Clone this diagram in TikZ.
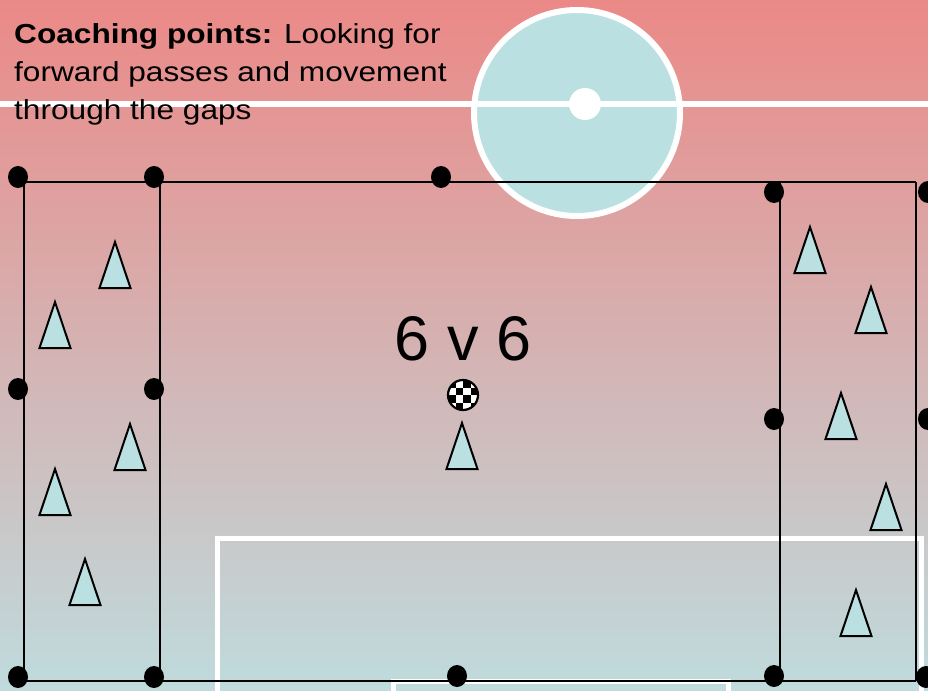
\documentclass[tikz,border=0pt]{standalone}
\usepackage{fontspec}
\setmainfont{Liberation Sans}
\newfontfamily\coachfont[FakeStretch=1.15]{Liberation Sans}
\usetikzlibrary{shapes.geometric}
\definecolor{bgtop}{RGB}{235,137,135}
\definecolor{bgmid}{RGB}{212,194,196}
\definecolor{bgbot}{RGB}{191,219,221}
\definecolor{pale}{RGB}{186,224,226}
\begin{document}
\begin{tikzpicture}[x=1pt,y=-1pt,
  dot/.style={ellipse,fill=black,inner sep=0pt,minimum width=20pt,minimum height=22pt},
  pitchline/.style={line width=2pt,black},
  whiteline/.style={line width=5pt,white},
  conepath/.style={fill=pale,draw=black,line width=2pt,line join=miter},
  cone/.pic={\path[conepath] (-15.5,0) -- (0,-46) -- (15.5,0) -- cycle;},
  coachtext/.style={anchor=base west,inner sep=0pt,font=\coachfont\fontsize{27.5}{33}\selectfont}
]
\useasboundingbox (0,0) rectangle (928,690);
% background
\shade[top color=bgtop,middle color=bgmid,bottom color=bgbot] (0,0) rectangle (928,690);

% centre circle and halfway line
\node[circle,fill=pale,draw=white,line width=6pt,minimum size=206pt,inner sep=0pt] (cc) at (577,113) {};
\coordinate (hl) at (0,104);
\coordinate (hr) at (928,104);
\draw[whiteline,line width=6pt] (hl) -- (hr);
\node[circle,fill=white,minimum size=32pt,inner sep=0pt] (spot) at (585,104) {};

% penalty box and goal area
\coordinate (pa1) at (217,700);
\coordinate (pa2) at (217,538);
\coordinate (pa3) at (921,538);
\coordinate (pa4) at (921,700);
\draw[whiteline] (pa1) -- (pa2) -- (pa3) -- (pa4);
\coordinate (ga1) at (393,700);
\coordinate (ga2) at (393,681);
\coordinate (ga3) at (728,681);
\coordinate (ga4) at (728,700);
\draw[whiteline] (ga1) -- (ga2) -- (ga3) -- (ga4);

% black pitch lines
\coordinate (tl) at (18,182);
\coordinate (tr) at (916,182);
\coordinate (bl) at (18,681);
\coordinate (br) at (916,681);
\coordinate (v1t) at (24,182);  \coordinate (v1b) at (24,681);
\coordinate (v2t) at (160,182); \coordinate (v2b) at (160,681);
\coordinate (v3t) at (780,182); \coordinate (v3b) at (780,681);
\coordinate (v4t) at (916,182); \coordinate (v4b) at (916,681);
\draw[pitchline] (tl) -- (tr);
\draw[pitchline] (bl) -- (br);
\draw[pitchline] (v1t) -- (v1b);
\draw[pitchline] (v2t) -- (v2b);
\draw[pitchline] (v3t) -- (v3b);
\draw[pitchline] (v4t) -- (v4b);

% dots
\node[dot] (d1) at (18,177) {};
\node[dot] (d2) at (154,177) {};
\node[dot] (d3) at (441,177) {};
\node[dot] (d4) at (774,192) {};
\node[dot] (d5) at (928,192) {};
\node[dot] (d6) at (18,389) {};
\node[dot] (d7) at (154,389) {};
\node[dot] (d8) at (774,419) {};
\node[dot] (d9) at (928,419) {};
\node[dot] (d10) at (18,677) {};
\node[dot] (d11) at (154,677) {};
\node[dot] (d12) at (457,676) {};
\node[dot] (d13) at (774,676) {};
\node[dot] (d14) at (926,677) {};

% cones
\pic at (115,288) {cone};
\pic at (55,348) {cone};
\pic at (130,470) {cone};
\pic at (55,515) {cone};
\pic at (85,605) {cone};
\pic at (462,469) {cone};
\pic at (810,273) {cone};
\pic at (871,333) {cone};
\pic at (841,439) {cone};
\pic at (886,530) {cone};
\pic at (856,636) {cone};

% ball
\node[circle,minimum size=30pt,inner sep=0pt,fill=white,draw=black,line width=2.2pt,
  path picture={
    \foreach \a/\b in {0/0,15/0,7.5/7.5,22.5/7.5,0/15,15/15,7.5/22.5,22.5/22.5}
      \fill[black] ([shift={(\a-15,\b-15)}]path picture bounding box.center) rectangle ++(7.5,7.5);
  }] (ball) at (463,395) {};

% texts
\node[anchor=base,inner sep=0pt,font=\fontsize{63}{70}\selectfont] (title) at (463,360) {6 v 6};
\node[coachtext] (c1) at (14,44) {\textbf{Coaching points:} Looking for};
\node[coachtext] (c2) at (14,82) {forward passes and movement};
\node[coachtext] (c3) at (14,120) {through the gaps};
\end{tikzpicture}
\end{document}
